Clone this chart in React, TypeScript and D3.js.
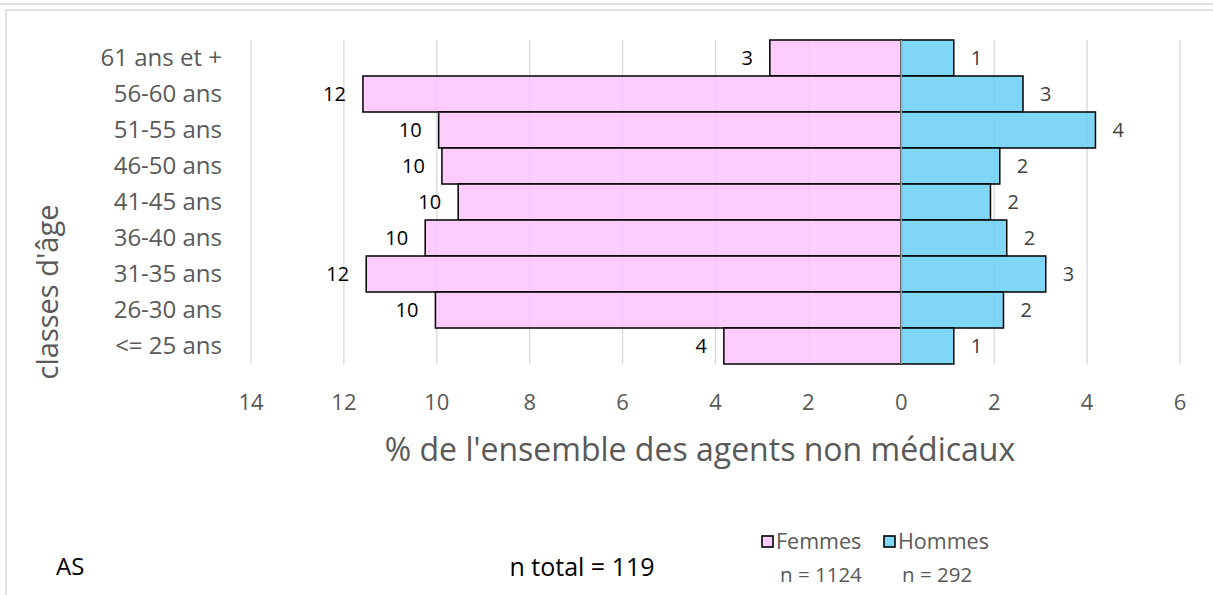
import React, { useEffect, useRef } from "react";
import * as d3 from "d3";

// age classes, top to bottom
const classes = [
  "61 ans et +",
  "56-60 ans",
  "51-55 ans",
  "46-50 ans",
  "41-45 ans",
  "36-40 ans",
  "31-35 ans",
  "26-30 ans",
  "<= 25 ans",
];
const femmes = [2.83, 11.59, 9.96, 9.89, 9.54, 10.25, 11.52, 10.03, 3.82];
const hommes = [1.13, 2.62, 4.18, 2.12, 1.92, 2.27, 3.11, 2.2, 1.13];
const xTicks = [-14, -12, -10, -8, -6, -4, -2, 0, 2, 4, 6];

const FONT = "'Open Sans', 'DejaVu Sans', sans-serif";

const App = () => {
  const ref = useRef<SVGSVGElement | null>(null);

  useEffect(() => {
    const svg = d3.select(ref.current);
    svg.selectAll("*").remove();

    const x = d3.scaleLinear().domain([-14, 6]).range([251, 1180]);
    const y = d3.scaleBand().domain(classes).range([40, 364]).padding(0);
    const fmt = d3.format(".0f");

    // frame
    svg.append("line").attr("x1", 0).attr("x2", 1213).attr("y1", 4).attr("y2", 4)
      .attr("stroke", "#d9d9d9").attr("stroke-width", 1.5);
    svg.append("rect").attr("x", 6).attr("y", 10).attr("width", 1220).attr("height", 600)
      .attr("fill", "none").attr("stroke", "#d9d9d9").attr("stroke-width", 1.5);

    // vertical gridlines
    svg.append("g")
      .selectAll("line")
      .data(xTicks)
      .enter()
      .append("line")
      .attr("x1", (d) => x(d))
      .attr("x2", (d) => x(d))
      .attr("y1", 40)
      .attr("y2", 364)
      .attr("stroke", "#d9d9d9")
      .attr("stroke-width", 1.3);

    // femmes (left)
    svg.append("g")
      .selectAll("rect")
      .data(femmes)
      .enter()
      .append("rect")
      .attr("x", (d) => x(-d))
      .attr("y", (d, i) => y(classes[i])!)
      .attr("width", (d) => x(0) - x(-d))
      .attr("height", y.bandwidth())
      .attr("fill", "rgb(251,195,251)")
      .attr("fill-opacity", 0.85)
      .attr("stroke", "#000")
      .attr("stroke-width", 1.5);

    // hommes (right)
    svg.append("g")
      .selectAll("rect")
      .data(hommes)
      .enter()
      .append("rect")
      .attr("x", x(0))
      .attr("y", (d, i) => y(classes[i])!)
      .attr("width", (d) => x(d) - x(0))
      .attr("height", y.bandwidth())
      .attr("fill", "rgb(106,207,244)")
      .attr("fill-opacity", 0.85)
      .attr("stroke", "#000")
      .attr("stroke-width", 1.5);

    // zero line
    svg.append("line")
      .attr("x1", x(0)).attr("x2", x(0)).attr("y1", 40).attr("y2", 364)
      .attr("stroke", "#a6a6a6").attr("stroke-width", 1.5);

    // data labels
    svg.append("g")
      .selectAll("text")
      .data(femmes)
      .enter()
      .append("text")
      .attr("x", (d) => x(-d) - 17)
      .attr("y", (d, i) => y(classes[i])! + y.bandwidth() / 2)
      .attr("dy", "0.35em")
      .attr("text-anchor", "end")
      .attr("font-size", 20)
      .attr("fill", "#000")
      .text((d) => fmt(d));

    svg.append("g")
      .selectAll("text")
      .data(hommes)
      .enter()
      .append("text")
      .attr("x", (d) => x(d) + 17)
      .attr("y", (d, i) => y(classes[i])! + y.bandwidth() / 2)
      .attr("dy", "0.35em")
      .attr("text-anchor", "start")
      .attr("font-size", 20)
      .attr("fill", "#404040")
      .text((d) => fmt(d));

    // y axis labels
    svg.append("g")
      .selectAll("text")
      .data(classes)
      .enter()
      .append("text")
      .attr("x", 222)
      .attr("y", (d) => y(d)! + y.bandwidth() / 2)
      .attr("dy", "0.35em")
      .attr("text-anchor", "end")
      .attr("font-size", 24)
      .attr("fill", "#595959")
      .text((d) => d);

    // x axis labels
    svg.append("g")
      .selectAll("text")
      .data(xTicks)
      .enter()
      .append("text")
      .attr("x", (d) => x(d))
      .attr("y", 402)
      .attr("dy", "0.35em")
      .attr("text-anchor", "middle")
      .attr("font-size", 22)
      .attr("fill", "#595959")
      .text((d) => Math.abs(d));

    // axis titles
    svg.append("text")
      .attr("x", 700).attr("y", 450).attr("dy", "0.35em")
      .attr("text-anchor", "middle").attr("font-size", 32).attr("fill", "#595959")
      .text("% de l'ensemble des agents non médicaux");

    svg.append("text")
      .attr("transform", "translate(48,292) rotate(-90)")
      .attr("dy", "0.35em")
      .attr("text-anchor", "middle").attr("font-size", 29).attr("fill", "#595959")
      .text("classes d'âge");

    // footer
    svg.append("text").attr("x", 56).attr("y", 567).attr("dy", "0.35em")
      .attr("font-size", 24).attr("fill", "#000").text("AS");
    svg.append("text").attr("x", 582).attr("y", 567).attr("dy", "0.35em")
      .attr("text-anchor", "middle").attr("font-size", 25).attr("fill", "#000")
      .text("n total = 119");

    // legend
    const legend = [
      { name: "Femmes", n: "n = 1124", color: "rgb(252,204,252)", x: 762 },
      { name: "Hommes", n: "n = 292", color: "rgb(128,214,246)", x: 884 },
    ];
    const lg = svg.append("g").selectAll("g").data(legend).enter().append("g");
    lg.append("rect")
      .attr("x", (d) => d.x).attr("y", 536).attr("width", 11).attr("height", 11)
      .attr("fill", (d) => d.color).attr("stroke", "#000").attr("stroke-width", 1.6);
    lg.append("text")
      .attr("x", (d) => d.x + 14).attr("y", 541).attr("dy", "0.35em")
      .attr("font-size", 21.5).attr("fill", "#595959").text((d) => d.name);
    lg.append("text")
      .attr("x", (d) => d.x + 18).attr("y", 575).attr("dy", "0.35em")
      .attr("font-size", 20.5).attr("fill", "#595959").text((d) => d.n);
  }, []);

  return (
    <svg
      ref={ref}
      width={1213}
      height={595}
      style={{ position: "absolute", left: 0, top: 0, background: "#fff", fontFamily: FONT }}
    />
  );
};

export default App;
